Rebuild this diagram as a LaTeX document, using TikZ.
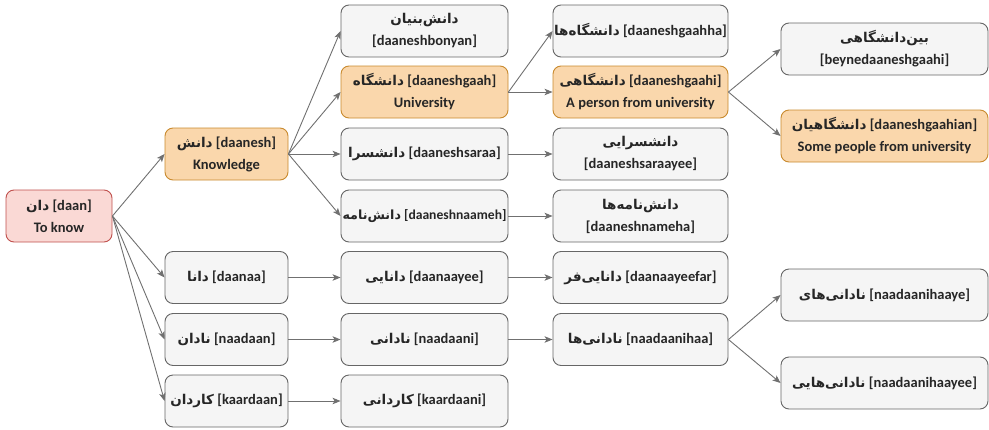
\documentclass[tikz,border=0pt]{standalone}
\usepackage{fontspec}
\setmainfont{Carlito}
\newfontfamily\fa[Script=Arabic,Scale=0.93]{DejaVu Sans}
\TeXXeTstate=1
\usetikzlibrary{arrows.meta}
\newcommand\fw[1]{{\fa\beginR #1\endR}}
\definecolor{grayfill}{HTML}{F5F5F5}
\definecolor{graystroke}{HTML}{666666}
\definecolor{orfill}{HTML}{FAD7AC}
\definecolor{orstroke}{HTML}{C98A2E}
\definecolor{pkfill}{HTML}{FAD9D5}
\definecolor{pkstroke}{HTML}{C0504D}
\definecolor{edgec}{HTML}{707070}
\tikzset{
  box/.style={draw=graystroke, fill=grayfill, rounded corners=8pt, line width=0.9pt,
    minimum height=52pt, inner sep=0pt, align=center,
    font=\fontsize{14.5}{22}\selectfont\bfseries, text=black!85},
  c2/.style={box, minimum width=123pt},
  c3/.style={box, minimum width=167pt},
  c4/.style={box, minimum width=175pt},
  c5/.style={box, minimum width=207pt},
  orange/.style={fill=orfill, draw=orstroke},
  pink/.style={fill=pkfill, draw=pkstroke},
  conn/.style={draw=edgec, line width=0.9pt, -{Stealth[length=8pt,width=6.5pt,inset=2pt]}}
}
\begin{document}
\begin{tikzpicture}[x=1pt,y=-1pt]
\useasboundingbox (0,0) rectangle (989,429);
% column 1
\node[box, pink, minimum width=106pt] (daan) at (59,216) {\fw{دان} [daan]\\To know};
% column 2
\node[c2, orange] (daanesh) at (226.5,154) {\fw{دانش} [daanesh]\\Knowledge};
\node[c2] (daanaa) at (226.5,277.5) {\fw{دانا} [daanaa]};
\node[c2] (naadaan) at (226.5,339.5) {\fw{نادان} [naadaan]};
\node[c2] (kaardaan) at (226.5,401) {\fw{کاردان} [kaardaan]};
% column 3
\node[c3] (bonyan) at (424.5,31) {\fw{دانش^^^^200cبنیان}\\{[daaneshbonyan]}};
\node[c3, orange] (gaah) at (424.5,92) {\fw{دانشگاه} [daaneshgaah]\\University};
\node[c3] (saraa) at (424.5,154) {\fw{دانشسرا} [daaneshsaraa]};
\node[c3, font=\fontsize{13.6}{22}\selectfont\bfseries] (naameh) at (424.5,216) {\fw{دانش^^^^200cنامه} [daaneshnaameh]};
\node[c3] (daanaayee) at (424.5,277.5) {\fw{دانایی} [daanaayee]};
\node[c3] (naadaani) at (424.5,339.5) {\fw{نادانی} [naadaani]};
\node[c3] (kaardaani) at (424.5,401) {\fw{کاردانی} [kaardaani]};
% column 4
\node[c4] (gaahha) at (640.5,31) {\fw{دانشگاه^^^^200cها} [daaneshgaahha]};
\node[c4, orange] (gaahi) at (640.5,92) {\fw{دانشگاهی} [daaneshgaahi]\\A person from university};
\node[c4] (saraayee) at (640.5,154) {\fw{دانشسرایی}\\{[daaneshsaraayee]}};
\node[c4] (nameha) at (640.5,216) {\fw{دانش^^^^200cنامه^^^^200cها}\\{[daaneshnameha]}};
\node[c4] (daanaayeefar) at (640.5,277.5) {\fw{دانایی^^^^200cفر} [daanaayeefar]};
\node[c4] (naadaanihaa) at (640.5,339.5) {\fw{نادانی^^^^200cها} [naadaanihaa]};
% column 5
\node[c5] (beyne) at (884.5,49) {\fw{بین^^^^200cدانشگاهی}\\{[beynedaaneshgaahi]}};
\node[c5, orange] (gaahian) at (884.5,136) {\fw{دانشگاهیان} [daaneshgaahian]\\Some people from university};
\node[c5] (haaye) at (884.5,295) {\fw{نادانی^^^^200cهای} [naadaanihaaye]};
\node[c5] (haayee) at (884.5,383) {\fw{نادانی^^^^200cهایی} [naadaanihaayee]};
% connectors
\foreach \t in {daanesh,daanaa,naadaan,kaardaan}
  \draw[conn] (daan.east) -- (\t.west);
\foreach \t in {bonyan,gaah,saraa,naameh}
  \draw[conn] (daanesh.east) -- (\t.west);
\foreach \t in {gaahha,gaahi}
  \draw[conn] (gaah.east) -- (\t.west);
\foreach \t in {beyne,gaahian}
  \draw[conn] (gaahi.east) -- (\t.west);
\draw[conn] (saraa) -- (saraayee);
\draw[conn] (naameh) -- (nameha);
\draw[conn] (daanaa) -- (daanaayee);
\draw[conn] (daanaayee) -- (daanaayeefar);
\draw[conn] (naadaan) -- (naadaani);
\draw[conn] (naadaani) -- (naadaanihaa);
\draw[conn] (kaardaan) -- (kaardaani);
\foreach \t in {haaye,haayee}
  \draw[conn] (naadaanihaa.east) -- (\t.west);
\end{tikzpicture}
\end{document}
